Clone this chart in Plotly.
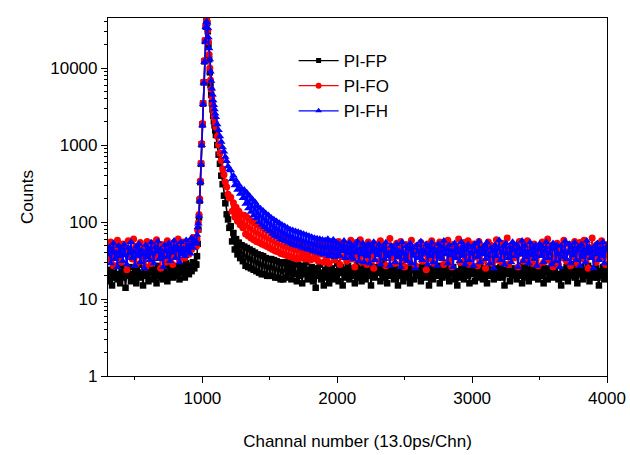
import plotly.graph_objects as go

# Channel numbers (x) for the sampled points
channels = (list(range(300, 951, 10)) + list(range(955, 1101, 5))
            + list(range(1110, 4001, 10)))

# ---- PI-FP (black) counts ----
pi_fp = [
    # 300-950
    20, 17, 24, 15, 22, 19, 27, 18, 21, 16,
    25, 19, 22, 14, 23, 20, 26, 17, 21, 18,
    24, 16, 22, 28, 19, 21, 15, 25, 20, 23,
    17, 22, 26, 18, 24, 20, 16, 27, 21, 19,
    23, 18, 25, 21, 17, 28, 20, 24, 19, 22,
    26, 20, 23, 18, 27, 22, 25, 19, 29, 24,
    21, 27, 23, 30, 25, 28,
    # 955-1100
    28, 36, 52, 80, 115, 190, 330, 570, 1020, 1850, 3450, 6500, 12200, 22500, 34500, 41000, 38500, 30000,
    20000, 13000, 8800, 6000, 4500, 3500, 2900, 2400, 2050, 1800, 1550, 1350,
    # 1110-4000
    1000, 750, 570, 400, 310, 220, 175, 126, 108, 84,
    88, 56, 72, 44, 60, 38, 54, 34, 50, 31,
    48, 27, 46, 26, 44, 25, 42, 24, 40, 23,
    38, 22, 37, 21, 36, 21, 34, 20, 33, 20,
    33, 20, 32, 19, 31, 19, 30, 18, 29, 18,
    30, 19, 27, 22, 31, 18, 26, 21, 29, 17,
    28, 20, 25, 16, 27, 21, 30, 18, 24, 19,
    26, 17, 23, 14, 25, 20, 28, 18, 22, 15,
    24, 19, 27, 16, 21, 25, 18, 23, 20, 29,
    17, 22, 26, 15, 24, 19, 21, 27, 18, 23,
    20, 25, 16, 22, 28, 19, 24, 17, 21, 26,
    18, 23, 20, 27, 15, 24, 21, 19, 26, 22,
    25, 17, 22, 29, 19, 23, 16, 21, 27, 20,
    24, 18, 26, 21, 15, 23, 20, 28, 17, 22,
    19, 25, 21, 16, 24, 27, 18, 22, 20, 26,
    23, 17, 20, 28, 22, 19, 25, 15, 21, 24,
    18, 26, 22, 20, 27, 16, 23, 19, 25, 21,
    28, 20, 17, 24, 21, 26, 18, 23, 15, 22,
    19, 25, 22, 18, 27, 20, 24, 16, 21, 26,
    23, 17, 21, 26, 19, 28, 22, 18, 25, 20,
    16, 24, 20, 27, 22, 18, 25, 21, 19, 23,
    26, 19, 22, 15, 24, 21, 28, 17, 23, 20,
    21, 25, 18, 23, 20, 27, 16, 22, 26, 19,
    24, 17, 21, 28, 19, 23, 20, 25, 18, 22,
    20, 26, 16, 22, 25, 18, 24, 21, 27, 19,
    23, 20, 27, 18, 21, 15, 24, 22, 19, 26,
    17, 22, 25, 20, 28, 19, 23, 16, 21, 24,
    26, 18, 21, 24, 20, 27, 17, 22, 25, 19,
    22, 25, 19, 15, 23, 20, 26, 18, 24, 21,
]

# ---- PI-FO (red) counts ----
pi_fo = [
    # 300-950
    45, 32, 55, 38, 27, 50, 41, 58, 35, 43,
    30, 52, 39, 46, 24, 57, 36, 44, 33, 60,
    42, 28, 49, 37, 54, 31, 47, 40, 26, 56,
    38, 45, 29, 53, 41, 34, 59, 36, 48, 25,
    51, 39, 44, 30, 57, 42, 35, 49, 28, 54,
    43, 37, 60, 32, 47, 40, 55, 34, 50, 45,
    38, 57, 44, 63, 49, 60,
    # 955-1100
    48, 60, 78, 98, 125, 200, 340, 580, 1050, 1900, 3500, 6600, 12500, 23000, 35000, 42000, 39500, 31000,
    22000, 15000, 10000, 7000, 5300, 4200, 3400, 2900, 2500, 2200, 1950, 1700,
    # 1110-4000
    1300, 1010, 780, 630, 490, 410, 330, 285, 230, 205,
    210, 138, 178, 116, 155, 102, 138, 92, 124, 84,
    122, 70, 115, 66, 108, 62, 102, 59, 97, 56,
    92, 54, 88, 52, 84, 50, 80, 48, 77, 46,
    74, 44, 70, 42, 67, 41, 65, 39, 62, 38,
    60, 37, 58, 36, 57, 35, 55, 34, 54, 33,
    52, 34, 49, 37, 53, 33, 48, 36, 51, 32,
    50, 33, 47, 36, 54, 31, 45, 38, 52, 30,
    48, 34, 55, 29, 46, 39, 53, 32, 44, 37,
    56, 28, 43, 49, 35, 52, 31, 45, 38, 58,
    33, 47, 26, 54, 40, 36, 59, 30, 44, 50,
    37, 28, 55, 42, 33, 48, 25, 52, 39, 46,
    31, 57, 43, 35, 50, 27, 45, 38, 61, 34,
    48, 40, 29, 53, 36, 44, 56, 32, 41, 26,
    51, 35, 47, 30, 58, 38, 43, 27, 49, 42,
    36, 54, 31, 46, 39, 24, 52, 44, 33, 57,
    45, 29, 50, 37, 41, 55, 34, 48, 28, 53,
    40, 58, 32, 44, 26, 51, 38, 47, 35, 60,
    30, 46, 42, 54, 33, 39, 57, 28, 49, 37,
    52, 35, 45, 27, 56, 41, 31, 48, 44, 25,
    38, 55, 34, 50, 29, 46, 40, 59, 32, 43,
    47, 30, 53, 37, 42, 62, 28, 45, 36, 51,
    34, 49, 41, 26, 56, 39, 44, 31, 54, 38,
    57, 33, 46, 40, 29, 52, 35, 48, 27, 43,
    39, 55, 30, 47, 37, 60, 32, 44, 50, 26,
    46, 36, 53, 28, 42, 49, 34, 58, 38, 31,
    41, 51, 27, 45, 35, 56, 40, 29, 47, 54,
    33, 44, 58, 37, 50, 25, 46, 39, 62, 35,
    48, 30, 52, 42, 34, 57, 38, 45, 28, 51,
]

# ---- PI-FH (blue) counts ----
pi_fh = [
    # 300-950
    38, 47, 29, 42, 53, 33, 40, 26, 49, 36,
    44, 31, 51, 37, 28, 46, 39, 55, 34, 41,
    27, 48, 36, 52, 30, 43, 38, 25, 50, 35,
    45, 32, 54, 39, 29, 47, 41, 56, 33, 44,
    37, 26, 50, 42, 35, 53, 31, 46, 40, 57,
    34, 48, 43, 30, 55, 38, 45, 36, 58, 41,
    50, 39, 62, 46, 58, 52,
    # 955-1100
    55, 68, 85, 95, 120, 190, 330, 560, 1000, 1800, 3400, 6400, 12000, 22000, 34000, 40000, 39000, 33000,
    25000, 18000, 13000, 9000, 6800, 5400, 4500, 3800, 3300, 2900, 2550, 2300,
    # 1110-4000
    1850, 1560, 1300, 1100, 930, 820, 700, 620, 530, 480,
    470, 360, 400, 300, 345, 262, 305, 232, 270, 205,
    262, 172, 240, 150, 218, 135, 198, 122, 182, 112,
    160, 100, 150, 92, 140, 86, 130, 80, 122, 76,
    114, 70, 108, 66, 102, 63, 97, 60, 92, 58,
    88, 56, 84, 54, 80, 52, 78, 50, 76, 49,
    74, 48, 72, 46, 70, 45, 68, 44, 66, 43,
    64, 42, 62, 41, 61, 40, 60, 39, 59, 38,
    58, 38, 60, 36, 56, 39, 59, 35, 55, 37,
    52, 36, 49, 42, 57, 34, 47, 39, 54, 35,
    48, 33, 51, 40, 56, 31, 45, 38, 53, 30,
    46, 36, 52, 29, 49, 41, 55, 32, 44, 37,
    51, 28, 43, 47, 33, 54, 36, 40, 27, 49,
    38, 45, 30, 52, 35, 42, 26, 55, 39, 33,
    48, 31, 44, 53, 29, 46, 37, 25, 50, 41,
    34, 56, 32, 43, 39, 51, 28, 47, 36, 54,
    30, 45, 40, 27, 52, 35, 48, 33, 57, 38,
    44, 29, 50, 37, 42, 26, 53, 34, 46, 40,
    31, 55, 36, 48, 28, 43, 51, 32, 39, 47,
    27, 52, 41, 35, 56, 30, 45, 38, 49, 33,
    54, 37, 29, 46, 42, 25, 50, 36, 44, 58,
    32, 40, 48, 28, 53, 39, 34, 47, 30, 55,
    43, 36, 51, 26, 45, 38, 57, 31, 49, 35,
    41, 29, 54, 37, 46, 33, 50, 27, 44, 52,
    36, 48, 30, 42, 55, 34, 39, 47, 28, 53,
    45, 31, 50, 38, 26, 49, 41, 35, 56, 33,
    40, 52, 29, 46, 37, 54, 32, 43, 48, 27,
    51, 35, 44, 30, 57, 39, 47, 34, 42, 25,
    49, 38, 53, 32, 45, 36, 55, 29, 43, 48,
]

series_names = ["PI-FP", "PI-FO", "PI-FH"]
y_tickvals = [1, 10, 100, 1000, 10000]
y_ticktext = ["1", "10", "100", "1000", "10000"]
x_tickvals = [1000, 2000, 3000, 4000]

FONT = "Liberation Sans, Arial, sans-serif"

fig = go.Figure()
styles = [
    (pi_fp, "#000000", "square", 6.5, 5),
    (pi_fo, "#FF0000", "circle", 7, 6),
    (pi_fh, "#0000FF", "triangle-up", 7.5, 6),
]
for name, (vals, color, sym, size, _) in zip(series_names, styles):
    fig.add_trace(go.Scatter(
        x=channels, y=vals, name=name, mode="lines+markers", showlegend=False,
        line=dict(color=color, width=1.6),
        marker=dict(color=color, symbol=sym, size=size, line=dict(width=0)),
    ))
# legend entries (smaller symbols, as in the original legend)
for name, (vals, color, sym, _, lsize) in zip(series_names, styles):
    fig.add_trace(go.Scatter(
        x=[None], y=[None], name=name, mode="lines+markers",
        line=dict(color=color, width=1.3),
        marker=dict(color=color, symbol=sym, size=lsize, line=dict(width=0)),
    ))

minor_y = [m * 10 ** d for d in range(0, 5) for m in range(2, 10)]

fig.update_layout(
    width=630, height=455,
    margin=dict(l=108, r=23, t=18, b=79),
    paper_bgcolor="white", plot_bgcolor="white",
    font=dict(family=FONT, size=17, color="black"),
    showlegend=True,
    legend=dict(x=0.372, y=0.93, xanchor="left", yanchor="top",
                bgcolor="rgba(0,0,0,0)", font=dict(size=17, family=FONT),
                itemwidth=40),
)
fig.update_xaxes(
    range=[300, 4000], tickvals=x_tickvals, ticks="outside", ticklen=6,
    tickwidth=1, tickcolor="black", showline=True, linecolor="black",
    linewidth=1.2, mirror=True, showgrid=False, zeroline=False, automargin=False,
    tickfont=dict(size=17, family=FONT),
    minor=dict(dtick=500, tick0=0, ticks="outside", ticklen=3, tickcolor="black", showgrid=False),
    title=dict(text="Channal number (13.0ps/Chn)", font=dict(size=17, family=FONT), standoff=28),
)
fig.update_yaxes(
    type="log", range=[0, 4.65], tickvals=y_tickvals, ticktext=y_ticktext,
    ticks="outside", ticklen=6, tickwidth=1, tickcolor="black",
    showline=True, linecolor="black", linewidth=1.2, mirror=True,
    showgrid=False, zeroline=False, automargin=False,
    tickfont=dict(size=17, family=FONT),
    minor=dict(tickvals=minor_y, ticks="outside", ticklen=3, tickcolor="black", showgrid=False),
    title=dict(text="Counts", font=dict(size=17, family=FONT), standoff=12),
)

fig.write_html("out.html")
